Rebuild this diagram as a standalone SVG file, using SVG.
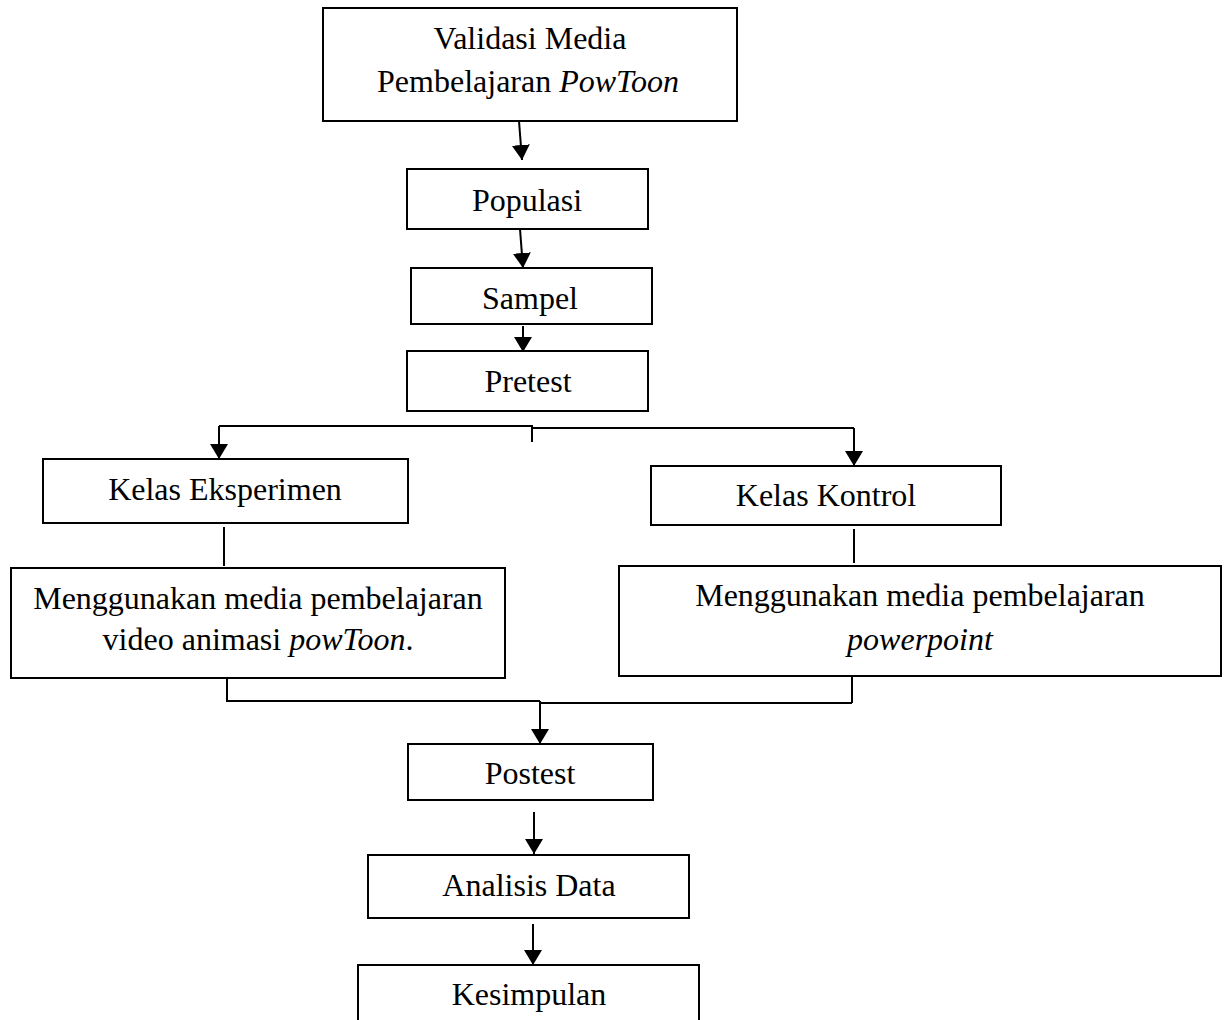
<svg xmlns="http://www.w3.org/2000/svg" width="1228" height="1020" viewBox="0 0 1228 1020">
<style>
.box{fill:#fff;stroke:#000;stroke-width:2}
.t{font-family:"Liberation Serif","Times New Roman",serif;font-size:32px;fill:#000;text-anchor:middle}
.i{font-style:italic}
.c{fill:none;stroke:#000;stroke-width:2}
</style>
<defs>
<marker id="ah" markerUnits="userSpaceOnUse" viewBox="0 0 15 18" refX="15" refY="9" markerWidth="15" markerHeight="18" orient="auto">
<path d="M0,0 L15,9 L0,18 z" fill="#000"/>
</marker>
</defs>
<rect width="1228" height="1020" fill="#fff"/>
<g id="connectors">
<path class="c" d="M519,121 L522,160" marker-end="url(#ah)"/>
<path class="c" d="M520,229 L523,268" marker-end="url(#ah)"/>
<path class="c" d="M523,326 L523,352" marker-end="url(#ah)"/>
<path class="c" d="M219,426 L533,426 M533,428 L854,428 M532,425 L532,442"/>
<path class="c" d="M219,426 L219,459" marker-end="url(#ah)"/>
<path class="c" d="M854,428 L854,466" marker-end="url(#ah)"/>
<path class="c" d="M224,527 L224,566"/>
<path class="c" d="M854,529 L854,563"/>
<path class="c" d="M227,668 L227,701 L540,701 M540,703 L852,703 M852,670 L852,703"/>
<path class="c" d="M540,701 L540,744" marker-end="url(#ah)"/>
<path class="c" d="M534,812 L534,854" marker-end="url(#ah)"/>
<path class="c" d="M533,924 L533,965" marker-end="url(#ah)"/>
</g>
<g id="validasi">
<rect class="box" x="323" y="8" width="414" height="113"/>
<text class="t" x="530" y="49">Validasi Media</text>
<text class="t" x="528" y="92">Pembelajaran <tspan class="i">PowToon</tspan></text>
</g>
<g id="populasi">
<rect class="box" x="407" y="169" width="241" height="60"/>
<text class="t" x="527" y="211">Populasi</text>
</g>
<g id="sampel">
<rect class="box" x="411" y="268" width="241" height="56"/>
<text class="t" x="530" y="309">Sampel</text>
</g>
<g id="pretest">
<rect class="box" x="407" y="351" width="241" height="60"/>
<text class="t" x="528" y="392">Pretest</text>
</g>
<g id="kelas-eksperimen">
<rect class="box" x="43" y="459" width="365" height="64"/>
<text class="t" x="225" y="500">Kelas Eksperimen</text>
</g>
<g id="kelas-kontrol">
<rect class="box" x="651" y="466" width="350" height="59"/>
<text class="t" x="826" y="506">Kelas Kontrol</text>
</g>
<g id="media-powtoon">
<rect class="box" x="11" y="568" width="494" height="110"/>
<text class="t" x="258" y="609">Menggunakan media pembelajaran</text>
<text class="t" x="258" y="650">video animasi <tspan class="i">powToon</tspan>.</text>
</g>
<g id="media-powerpoint">
<rect class="box" x="619" y="566" width="602" height="110"/>
<text class="t" x="920" y="606">Menggunakan media pembelajaran</text>
<text class="t i" x="920" y="650">powerpoint</text>
</g>
<g id="postest">
<rect class="box" x="408" y="744" width="245" height="56"/>
<text class="t" x="530" y="784">Postest</text>
</g>
<g id="analisis-data">
<rect class="box" x="368" y="855" width="321" height="63"/>
<text class="t" x="529" y="896">Analisis Data</text>
</g>
<g id="kesimpulan">
<rect class="box" x="358" y="965" width="341" height="70"/>
<text class="t" x="529" y="1005">Kesimpulan</text>
</g>
</svg>
